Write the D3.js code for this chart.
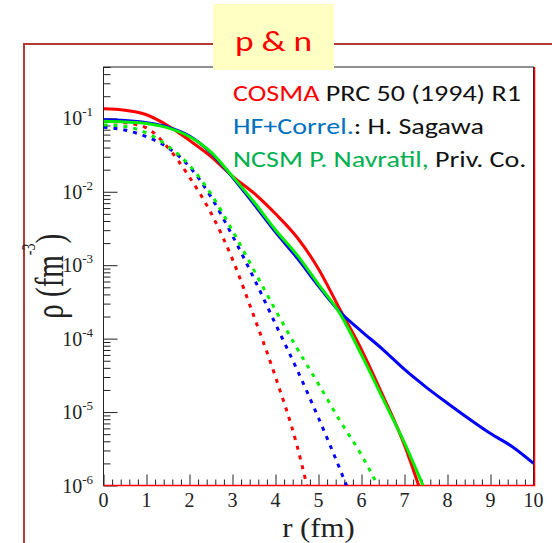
<!DOCTYPE html>
<html>
<head>
<meta charset="utf-8">
<script src="https://cdn.jsdelivr.net/npm/d3@7"></script>
<style>
  html, body { margin: 0; padding: 0; background: #fff; }
  svg { display: block; }
</style>
</head>
<body>
<script>
// Radial density profiles rho(r), proton and neutron, three model calculations.
// Solid: matter density; dotted: point-nucleon density.
const r_cosma      = [0, 0.5, 1, 1.5, 2, 2.5, 3, 3.5, 4, 4.5, 5, 5.5, 6, 6.5, 7, 7.33];
const rho_cosma    = [0.135, 0.129, 0.112, 0.0794, 0.0501, 0.0302, 0.0162, 0.00955, 0.00501, 0.0024, 8.9e-4, 2.5e-4, 7.1e-5, 1.66e-5, 3.55e-6, 1.0e-6];

const r_hf         = [0, 0.5, 1, 1.5, 2, 2.5, 3, 3.5, 4, 4.5, 5, 5.5, 6, 6.5, 7, 7.5, 8, 8.5, 9, 9.5, 10];
const rho_hf       = [0.0955, 0.0933, 0.0871, 0.0759, 0.0575, 0.0339, 0.0158, 0.00676, 0.00282, 0.00126, 5.2e-4, 2.3e-4, 1.26e-4, 7.1e-5, 3.8e-5, 2.19e-5, 1.32e-5, 8.1e-6, 5.1e-6, 3.4e-6, 2.0e-6];

const r_ncsm       = [0, 0.5, 1, 1.5, 2, 2.5, 3, 3.5, 4, 4.5, 5, 5.5, 6, 6.5, 7, 7.43];
const rho_ncsm     = [0.0912, 0.0891, 0.0851, 0.0741, 0.0562, 0.0347, 0.0162, 0.00724, 0.00302, 0.00138, 5.5e-4, 2.19e-4, 6.0e-5, 1.51e-5, 3.8e-6, 1.0e-6];

const r_cosma_pt   = [0, 0.5, 1, 1.5, 2, 2.5, 3, 3.5, 4, 4.5, 4.73];
const rho_cosma_pt = [0.0912, 0.0871, 0.0741, 0.0398, 0.0158, 0.00513, 0.0012, 2.0e-4, 3.0e-5, 3.5e-6, 1.0e-6];

const r_hf_pt      = [0, 0.5, 1, 1.5, 2, 2.5, 3, 3.5, 4, 4.5, 5, 5.5, 5.65];
const rho_hf_pt    = [0.0759, 0.0692, 0.0562, 0.0398, 0.0219, 0.00851, 0.00251, 6.6e-4, 1.58e-4, 3.8e-5, 8.3e-6, 1.66e-6, 1.0e-6];

const r_ncsm_pt    = [0, 0.5, 1, 1.5, 2, 2.5, 3, 3.5, 4, 4.5, 5, 5.5, 6, 6.38];
const rho_ncsm_pt  = [0.0813, 0.0776, 0.0631, 0.0417, 0.0229, 0.00933, 0.00295, 8.5e-4, 2.45e-4, 7.4e-5, 2.4e-5, 7.6e-6, 2.6e-6, 1.0e-6];

const xTicks = [0, 1, 2, 3, 4, 5, 6, 7, 8, 9, 10];
const yDecades = [-6, -5, -4, -3, -2, -1];

const W = 552, H = 543;
const M = { left: 103.5, right: 533.5, top: 67, bottom: 485.5 };
const serif = "Liberation Serif, Times New Roman, serif";
const sans = "Carlito, Lato, sans-serif";

const svg = d3.select("body").append("svg").attr("width", W).attr("height", H);

// slide-style outer frame with title tab
svg.append("path")
  .attr("d", `M24,${H} V44 H${W}`)
  .attr("fill", "none").attr("stroke", "#b23a35").attr("stroke-width", 2);

const x = d3.scaleLinear().domain([0, 10]).range([M.left, M.right]);
const y = d3.scaleLog().domain([1e-6, 0.5]).range([M.bottom, M.top]);

svg.append("clipPath").attr("id", "plot")
  .append("rect").attr("x", M.left).attr("y", M.top)
  .attr("width", M.right - M.left).attr("height", M.bottom - M.top);

// frame
svg.append("rect")
  .attr("x", M.left).attr("y", M.top)
  .attr("width", M.right - M.left).attr("height", M.bottom - M.top)
  .attr("fill", "none").attr("stroke", "#222").attr("stroke-width", 1);

// x axis ticks (inward)
const xMinor = d3.range(0, 10.001, 0.2);
const xAxis = svg.append("g").attr("transform", `translate(0,${M.bottom})`)
  .call(d3.axisBottom(x).tickValues(xMinor).tickSize(0).tickFormat(""));
xAxis.select(".domain").remove();
xAxis.selectAll(".tick line")
  .attr("y2", d => Math.abs(d - Math.round(d)) < 1e-6 ? -11 : -6)
  .attr("stroke", "#222");
svg.append("g").selectAll("text").data(xTicks).join("text")
  .attr("x", d => x(d)).attr("y", M.bottom + 21)
  .attr("text-anchor", "middle")
  .attr("font-family", serif)
  .attr("font-size", 20).attr("fill", "#222")
  .text(d => d);

// y axis ticks (inward), decades + minors
const yMinor = [];
yDecades.forEach(e => { for (let k = 1; k <= 9; k++) { const v = k * Math.pow(10, e); if (v <= 0.5) yMinor.push(v); } });
const yAxis = svg.append("g").attr("transform", `translate(${M.left},0)`)
  .call(d3.axisLeft(y).tickValues(yMinor).tickSize(0).tickFormat(""));
yAxis.select(".domain").remove();
yAxis.selectAll(".tick line")
  .attr("x2", d => Math.abs(Math.log10(d) - Math.round(Math.log10(d))) < 1e-6 ? 14 : 7)
  .attr("stroke", "#222");

const yl = svg.append("g").selectAll("text").data(yDecades).join("text")
  .attr("x", 93).attr("y", d => y(Math.pow(10, d)) + 7)
  .attr("text-anchor", "end")
  .attr("font-family", serif)
  .attr("fill", "#222");
yl.append("tspan").attr("font-size", 20).text("10");
yl.append("tspan").attr("font-size", 13).attr("dy", -9).text(d => "-" + Math.abs(d));

// red edge on bottom and right of frame
svg.append("path")
  .attr("d", `M${M.left},${M.bottom} H${M.right + 1} V${M.top}`)
  .attr("fill", "none").attr("stroke", "#ff0000").attr("stroke-width", 1.5);

// axis titles
svg.append("g")
  .attr("transform", `translate(${(M.left + M.right) / 2},537) scale(1.1,1)`)
  .append("text")
  .attr("text-anchor", "middle")
  .attr("font-family", serif)
  .attr("font-size", 28).attr("fill", "#222")
  .text("r (fm)");

const yt = svg.append("g")
  .attr("transform", `translate(63,${(M.top + M.bottom) / 2}) scale(1.35,1) rotate(-90)`)
  .append("text")
  .attr("text-anchor", "middle")
  .attr("font-family", serif)
  .attr("font-size", 29).attr("fill", "#222");
yt.append("tspan").text("\u03c1 (fm");
yt.append("tspan").attr("font-size", 14).attr("dy", -21).text("-3");
yt.append("tspan").attr("dy", 21).text(")");

// curves
const line = d3.line().x(d => x(d[0])).y(d => y(d[1])).curve(d3.curveMonotoneX);
const series = [
  { r: r_cosma_pt, v: rho_cosma_pt, color: "#ff0000", dash: "4,6" },
  { r: r_hf_pt,    v: rho_hf_pt,    color: "#0000ff", dash: "4,6" },
  { r: r_ncsm_pt,  v: rho_ncsm_pt,  color: "#00ee00", dash: "4,6" },
  { r: r_cosma,    v: rho_cosma,    color: "#ff0000", dash: null },
  { r: r_hf,       v: rho_hf,       color: "#0000ff", dash: null },
  { r: r_ncsm,     v: rho_ncsm,     color: "#00ee00", dash: null }
];
const gCurves = svg.append("g").attr("clip-path", "url(#plot)");
series.forEach(s => {
  gCurves.append("path")
    .datum(s.r.map((rv, i) => [rv, s.v[i]]))
    .attr("d", line)
    .attr("fill", "none")
    .attr("stroke", s.color)
    .attr("stroke-width", 3)
    .attr("stroke-dasharray", s.dash);
});

// legend
const legend = [
  [["COSMA", "#ff0000"], [" PRC 50 (1994) R1", "#111"]],
  [["HF+Correl.", "#0070c0"], [": H. Sagawa", "#111"]],
  [["NCSM P. Navratil,", "#00b050"], [" Priv. Co.", "#111"]]
];
legend.forEach((row, i) => {
  const t = svg.append("g")
    .attr("transform", `translate(233,${101 + i * 33}) scale(1.22,1)`)
    .append("text")
    .attr("font-family", sans)
    .attr("font-size", 23);
  row.forEach(([s, c]) => t.append("tspan").attr("fill", c).text(s));
});

// title tab
svg.append("rect")
  .attr("x", 213).attr("y", 4).attr("width", 121).attr("height", 66)
  .attr("fill", "#ffffc4");
svg.append("g")
  .attr("transform", "translate(273.5,51) scale(1.22,1)")
  .append("text")
  .attr("text-anchor", "middle")
  .attr("font-family", sans)
  .attr("font-size", 29).attr("fill", "#ff0000")
  .text("p & n");
</script>
</body>
</html>
